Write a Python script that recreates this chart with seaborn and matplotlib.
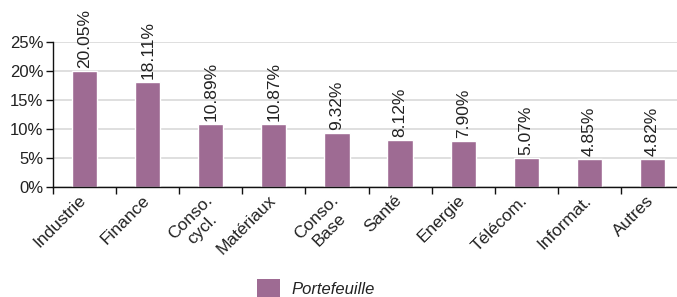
import matplotlib
matplotlib.use("Agg")
import matplotlib.pyplot as plt
import matplotlib.transforms as mtransforms
import seaborn as sns
import pandas as pd
from matplotlib.patches import Patch
from matplotlib.ticker import FixedLocator

categories = ["Industrie", "Finance", "Conso.\ncycl.", "Matériaux", "Conso.\nBase",
              "Santé", "Energie", "Télécom.", "Informat.", "Autres"]
values = [20.05, 18.11, 10.89, 10.87, 9.32, 8.12, 7.90, 5.07, 4.85, 4.82]
series_name = "Portefeuille"
yticks = [0, 5, 10, 15, 20, 25]

color = "#9e6b93"
sns.set_style("white")
plt.rcParams["font.family"] = ["Liberation Sans", "DejaVu Sans"]

df = pd.DataFrame({"cat": categories, "val": values})

fig = plt.figure(figsize=(6.77, 2.97), dpi=100)
ax = fig.add_axes([53 / 677, 1 - 187 / 297, 631 / 677, 145 / 297])
sns.barplot(data=df, x="cat", y="val", color=color, width=0.4, ax=ax, saturation=1)

ax.set_ylim(0, 25)
ax.set_xlim(-0.5, len(categories) - 0.5)
ax.set_yticks(yticks)
ax.set_yticklabels([f"{t}%" for t in yticks], fontsize=12, color="#222222")
ax.yaxis.grid(True, color="#d9d9d9", linewidth=1.2)
ax.set_axisbelow(True)
ax.set_xlabel("")
ax.set_ylabel("")
for s in ["top", "right"]:
    ax.spines[s].set_visible(False)
for s in ["left", "bottom"]:
    ax.spines[s].set_color("#111111")
    ax.spines[s].set_linewidth(1.0)

ax.tick_params(axis="y", left=True, length=5, width=1, color="#111111", pad=2)
ax.set_xticks(range(len(categories)))
ax.set_xticklabels(categories, rotation=45, ha="right", rotation_mode="anchor",
                   fontsize=12.5, color="#222222", multialignment="center")
ax.tick_params(axis="x", which="major", length=0, pad=4)
offset = mtransforms.ScaledTranslation(-6 / 100, 0, fig.dpi_scale_trans)
for lbl in ax.get_xticklabels():
    lbl.set_transform(lbl.get_transform() + offset)
ax.xaxis.set_minor_locator(FixedLocator([i - 0.5 for i in range(len(categories) + 1)]))
ax.tick_params(axis="x", which="minor", bottom=True, length=5, width=1, color="#111111")

for i, v in enumerate(values):
    ax.text(i, v + 0.5, f"{v:.2f}%", rotation=90, ha="center", va="bottom",
            fontsize=12.5, color="#222222", clip_on=False)

handle = Patch(facecolor=color, edgecolor="none", label=series_name)
leg = fig.legend(handles=[handle], loc="center", bbox_to_anchor=(316 / 677, 1 - 288 / 297),
                 frameon=False, prop={"style": "italic", "size": 12},
                 handlelength=1.4, handleheight=1.3, handletextpad=0.7)
for t in leg.get_texts():
    t.set_color("#222222")

fig.savefig("out.png", dpi=100)
